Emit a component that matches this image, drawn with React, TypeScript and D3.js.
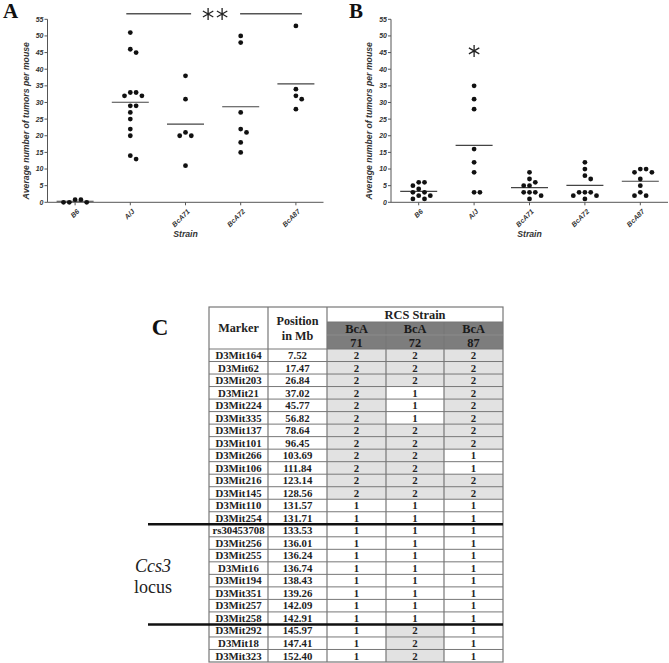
import React from "react";
import * as d3 from "d3";

const strains = ["B6", "A/J", "BcA71", "BcA72", "BcA87"];
const yTicks = [0, 5, 10, 15, 20, 25, 30, 35, 40, 45, 50, 55];

const tumorsA_B6 = [0, 0.8, 0, 0.8, 0];
const tumorsA_AJ = [51, 46, 45, 33, 33, 32, 32, 29, 29, 27, 25, 22, 20, 14, 13];
const tumorsA_71 = [38, 31, 21, 20, 20, 11];
const tumorsA_72 = [50, 48, 27, 22, 21, 18, 15];
const tumorsA_87 = [53, 34, 32, 31, 28];

const tumorsB_B6 = [6, 6, 5, 4, 3, 3, 2, 2, 1, 1];
const tumorsB_AJ = [35, 31, 28, 16, 12, 9, 3, 3];
const tumorsB_71 = [9, 7, 6, 5, 5, 3, 3, 3, 2, 1];
const tumorsB_72 = [12, 10, 8, 7, 3, 3, 3, 2, 2, 1];
const tumorsB_87 = [10, 10, 9, 9, 7, 5, 3, 2, 2];

const markers = ["D3Mit164", "D3Mit62", "D3Mit203", "D3Mit21", "D3Mit224", "D3Mit335", "D3Mit137", "D3Mit101", "D3Mit266", "D3Mit106", "D3Mit216", "D3Mit145", "D3Mit110", "D3Mit254", "rs30453708", "D3Mit256", "D3Mit255", "D3Mit16", "D3Mit194", "D3Mit351", "D3Mit257", "D3Mit258", "D3Mit292", "D3Mit18", "D3Mit323"];
const positionsMb = ["7.52", "17.47", "26.84", "37.02", "45.77", "56.82", "78.64", "96.45", "103.69", "111.84", "123.14", "128.56", "131.57", "131.71", "133.53", "136.01", "136.24", "136.74", "138.43", "139.26", "142.09", "142.91", "145.97", "147.41", "152.40"];
const bca71 = [2, 2, 2, 2, 2, 2, 2, 2, 2, 2, 2, 2, 1, 1, 1, 1, 1, 1, 1, 1, 1, 1, 1, 1, 1];
const bca72 = [2, 2, 2, 1, 1, 1, 2, 2, 2, 2, 2, 2, 1, 1, 1, 1, 1, 1, 1, 1, 1, 1, 2, 2, 2];
const bca87 = [2, 2, 2, 2, 2, 2, 2, 2, 1, 1, 2, 2, 1, 1, 1, 1, 1, 1, 1, 1, 1, 1, 1, 1, 1];
const rcsStrains = ["71", "72", "87"];
const locusStart = "D3Mit254";
const locusEnd = "D3Mit258";

const SANS = "'Liberation Sans', Arial, sans-serif";
const SERIF = "'Liberation Serif', 'Times New Roman', serif";

const y = d3.scaleLinear().domain([0, 55]).range([202.3, 19.3]);

function swarm(values: number[], cx: number, step: number) {
  const sorted = values.map((v, i) => ({ v, i })).sort((a, b) => b.v - a.v);
  const placed: { x: number; y: number }[] = [];
  const order = [0, 1, -1, 2, -2, 3, -3, 4, -4];
  for (const p of sorted) {
    const py = y(p.v);
    for (const k of order) {
      const px = cx + k * step;
      const ok = placed.every((q) => Math.hypot(q.x - px, q.y - py) >= step * 0.95);
      if (ok) {
        placed.push({ x: px, y: py });
        break;
      }
    }
  }
  return placed;
}

function star(cx: number, cy: number, r: number) {
  let d = "";
  [90, 30, 150].forEach((a) => {
    const rad = (a * Math.PI) / 180;
    const dx = Math.cos(rad) * r, dy = Math.sin(rad) * r;
    d += `M${cx - dx},${cy - dy}L${cx + dx},${cy + dy}`;
  });
  return d;
}

function Panel({ groups, x0, x1, label, labelX }: { groups: number[][]; x0: number; x1: number; label: string; labelX: number }) {
  const x = d3.scaleBand().domain(strains).range([x0, x1]);
  const y0 = y(0);
  return (
    <g>
      <text x={labelX} y={18} fontFamily={SERIF} fontWeight="bold" fontSize={21} fill="#111">{label}</text>
      <line x1={x0} x2={x0} y1={y0} y2={y(55)} stroke="#555" strokeWidth={1} />
      <line x1={x0} x2={x1} y1={y0} y2={y0} stroke="#555" strokeWidth={1} />
      {yTicks.map((t) => (
        <g key={t}>
          <line x1={x0 - 3} x2={x0} y1={y(t)} y2={y(t)} stroke="#555" />
          <text x={x0 - 4} y={y(t)} dy="0.35em" textAnchor="end" fontFamily={SANS} fontStyle="italic" fontWeight="bold" fontSize={7} fill="#333">{t}</text>
        </g>
      ))}
      <text transform={`translate(${x0 - 19},${(y0 + y(55)) / 2 + 10}) rotate(-90)`} textAnchor="middle" fontFamily={SANS} fontStyle="italic" fontWeight="bold" fontSize={8.7} fill="#333">Average number of tumors per mouse</text>
      {strains.map((s, i) => {
        const cx = (x(s) as number) + x.bandwidth() / 2;
        const pts = swarm(groups[i], cx, 5.8);
        const m = d3.mean(groups[i]) as number;
        return (
          <g key={s}>
            <line x1={cx} x2={cx} y1={y0} y2={y0 + 3} stroke="#555" />
            <text transform={`translate(${cx + 3},${y0 + 8}) rotate(-45)`} textAnchor="end" dy="0.35em" fontFamily={SANS} fontStyle="italic" fontWeight="bold" fontSize={7} fill="#333">{s}</text>
            <line x1={cx - 18.5} x2={cx + 18.5} y1={y(m)} y2={y(m)} stroke="#444" strokeWidth={1.2} />
            {pts.map((p, j) => (
              <circle key={j} cx={p.x} cy={p.y} r={2.4} fill="#111" />
            ))}
          </g>
        );
      })}
      <text x={(x0 + x1) / 2} y={237} textAnchor="middle" fontFamily={SANS} fontStyle="italic" fontWeight="bold" fontSize={8.7} fill="#333">Strain</text>
    </g>
  );
}

function Table() {
  const rowY = d3.scaleBand().domain(markers).range([349, 662]);
  const colX = [209, 268, 327, 386, 444, 503];
  const rh = rowY.bandwidth();
  const header1 = 307, header2 = 322, header3 = 335, headerEnd = 349;
  const grid = "#777";
  const values = [bca71, bca72, bca87];
  const lineY1 = (rowY(locusStart) as number) + rh;
  const lineY2 = (rowY(locusEnd) as number) + rh;
  return (
    <g>
      <text x={160} y={335} textAnchor="middle" fontFamily={SERIF} fontWeight="bold" fontSize={23} fill="#111">C</text>
      {/* header backgrounds */}
      <rect x={colX[2]} y={header2} width={colX[5] - colX[2]} height={headerEnd - header2} fill="#7d7d7d" />
      {markers.map((mk, i) => (
        <g key={mk}>
          {values.map((vals, c) => (
            <rect key={c} x={colX[2 + c]} y={rowY(mk) as number} width={colX[3 + c] - colX[2 + c]} height={rh} fill={vals[i] === 2 ? "#e2e2e2" : "#fff"} />
          ))}
        </g>
      ))}
      {/* grid */}
      <rect x={colX[0]} y={header1} width={colX[5] - colX[0]} height={662 - header1} fill="none" stroke={grid} strokeWidth={1.2} />
      {colX.slice(1, 5).map((cx, i) => (
        <line key={i} x1={cx} x2={cx} y1={i < 2 ? header1 : header2} y2={662} stroke={grid} strokeWidth={1.2} />
      ))}
      <line x1={colX[2]} x2={colX[5]} y1={header2} y2={header2} stroke={grid} />
      <line x1={colX[2]} x2={colX[5]} y1={header3} y2={header3} stroke="#999" strokeWidth={0.6} />
      {markers.map((mk) => (
        <line key={mk} x1={colX[0]} x2={colX[5]} y1={rowY(mk) as number} y2={rowY(mk) as number} stroke={grid} strokeWidth={1} />
      ))}
      {/* header text */}
      <text x={(colX[0] + colX[1]) / 2} y={332} textAnchor="middle" fontFamily={SERIF} fontWeight="bold" fontSize={12.2} fill="#222">Marker</text>
      <text x={(colX[1] + colX[2]) / 2} y={325} textAnchor="middle" fontFamily={SERIF} fontWeight="bold" fontSize={12.2} fill="#222">Position</text>
      <text x={(colX[1] + colX[2]) / 2} y={340} textAnchor="middle" fontFamily={SERIF} fontWeight="bold" fontSize={12.2} fill="#222">in Mb</text>
      <text x={(colX[2] + colX[5]) / 2} y={319} textAnchor="middle" fontFamily={SERIF} fontWeight="bold" fontSize={12.4} fill="#222">RCS Strain</text>
      {rcsStrains.map((s, c) => (
        <g key={s}>
          <text x={(colX[2 + c] + colX[3 + c]) / 2} y={333} textAnchor="middle" fontFamily={SERIF} fontWeight="bold" fontSize={12.4} fill="#1a1a1a">BcA</text>
          <text x={(colX[2 + c] + colX[3 + c]) / 2} y={347} textAnchor="middle" fontFamily={SERIF} fontWeight="bold" fontSize={12.4} fill="#1a1a1a">{s}</text>
        </g>
      ))}
      {markers.map((mk, i) => {
        const cy = (rowY(mk) as number) + rh / 2;
        return (
          <g key={mk}>
            <text x={(colX[0] + colX[1]) / 2} y={cy} dy="0.35em" textAnchor="middle" fontFamily={SERIF} fontWeight="bold" fontSize={10.8} fill="#222">{mk}</text>
            <text x={(colX[1] + colX[2]) / 2} y={cy} dy="0.35em" textAnchor="middle" fontFamily={SERIF} fontWeight="bold" fontSize={10.8} fill="#222">{positionsMb[i]}</text>
            {values.map((vals, c) => (
              <text key={c} x={(colX[2 + c] + colX[3 + c]) / 2} y={cy} dy="0.35em" textAnchor="middle" fontFamily={SERIF} fontWeight="bold" fontSize={10.8} fill="#222">{vals[i]}</text>
            ))}
          </g>
        );
      })}
      <line x1={148} x2={colX[5]} y1={lineY1} y2={lineY1} stroke="#111" strokeWidth={2.5} />
      <line x1={148} x2={colX[5]} y1={lineY2} y2={lineY2} stroke="#111" strokeWidth={2.5} />
      <text x={153} y={572} textAnchor="middle" fontFamily={SERIF} fontStyle="italic" fontSize={18} fill="#222">Ccs3</text>
      <text x={153} y={593} textAnchor="middle" fontFamily={SERIF} fontSize={18} fill="#222">locus</text>
    </g>
  );
}

export default function App() {
  const xA = d3.scaleBand().domain(strains).range([47.5, 323.5]);
  const cAJ = (xA("A/J") as number) + xA.bandwidth() / 2;
  const c87 = (xA("BcA87") as number) + xA.bandwidth() / 2;
  const xB = d3.scaleBand().domain(strains).range([391, 668]);
  const bAJ = (xB("A/J") as number) + xB.bandwidth() / 2;
  const mid = (cAJ + c87) / 2 + 2;
  return (
    <svg width={669} height={663} style={{ position: "absolute", left: 0, top: 0, background: "#fff" }}>
      <rect width={669} height={663} fill="#fff" />
      <Panel groups={[tumorsA_B6, tumorsA_AJ, tumorsA_71, tumorsA_72, tumorsA_87]} x0={47.5} x1={323.5} label="A" labelX={3} />
      <line x1={cAJ - 4} x2={mid - 24} y1={13.7} y2={13.7} stroke="#555" strokeWidth={1.4} />
      <line x1={mid + 25} x2={c87 + 6} y1={13.7} y2={13.7} stroke="#555" strokeWidth={1.4} />
      <path d={star(mid - 7, 14, 6)} stroke="#222" strokeWidth={1.3} fill="none" />
      <path d={star(mid + 7, 14, 6)} stroke="#222" strokeWidth={1.3} fill="none" />
      <Panel groups={[tumorsB_B6, tumorsB_AJ, tumorsB_71, tumorsB_72, tumorsB_87]} x0={391} x1={668} label="B" labelX={349} />
      <path d={star(bAJ, y(45.5), 6)} stroke="#222" strokeWidth={1.3} fill="none" />
      <Table />
    </svg>
  );
}
